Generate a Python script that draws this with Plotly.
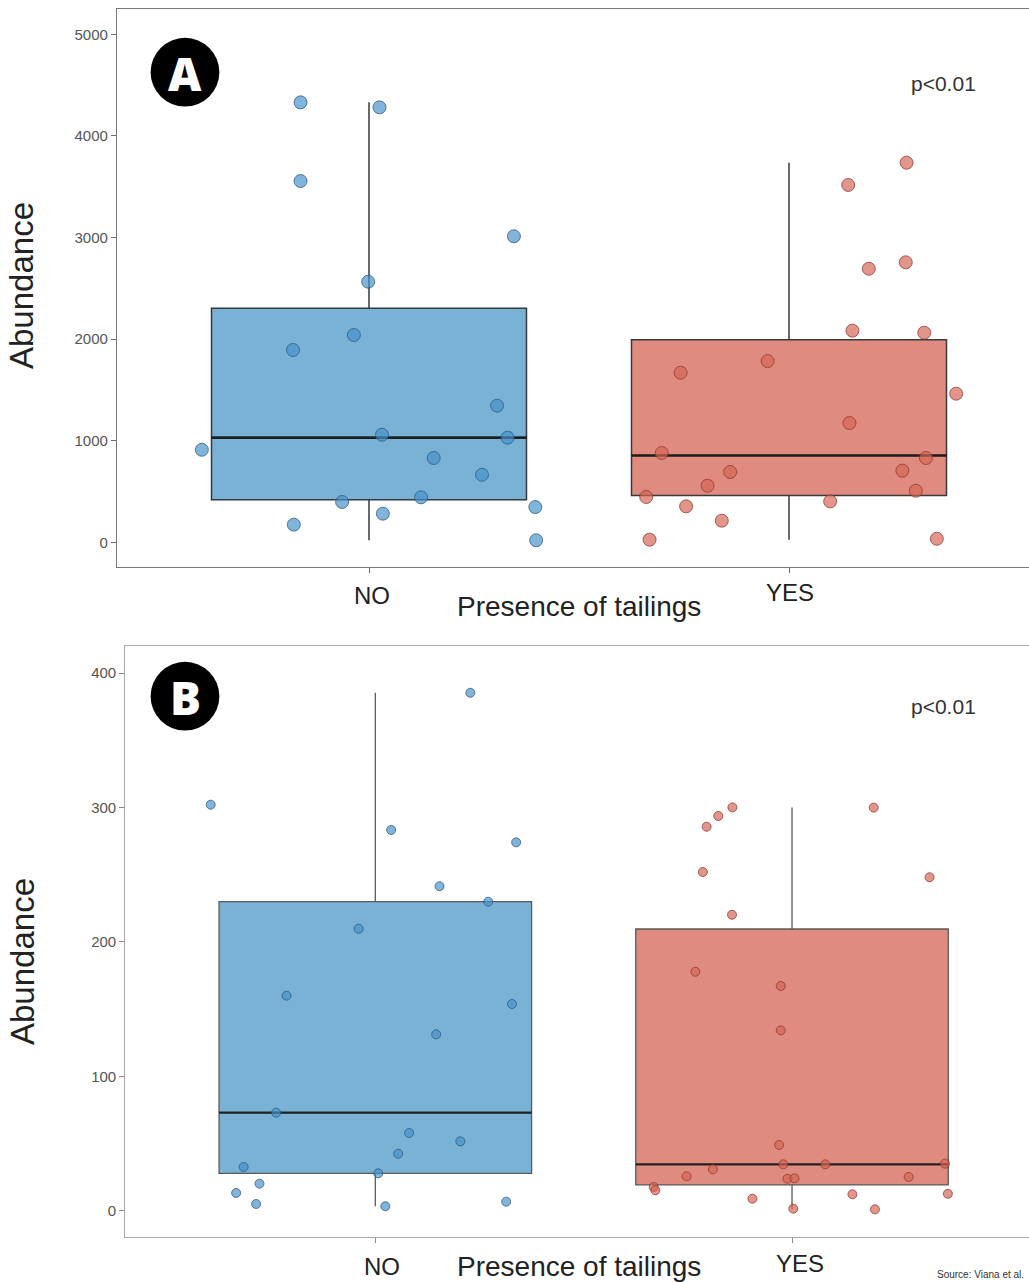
import numpy as np
import plotly.graph_objects as go

W, H = 1029, 1282

# ---- data -------------------------------------------------------------
categories = ["NO", "YES"]

# Panel A: abundance per site, with the horizontal jitter positions used for the dots
a_no_x = [0.837, 1.025, 0.837, 0.998, 1.345, 0.964, 0.819, 1.305, 1.031, 1.330,
          0.602, 1.154, 1.269, 1.124, 0.936, 1.033, 0.821, 1.396, 1.398]
a_no_y = [4330, 4281, 3556, 2565, 3012, 2040, 1893, 1345, 1059, 1030,
          911, 830, 665, 443, 397, 282, 174, 347, 20]

a_yes_x = [2.280, 2.141, 2.190, 2.278, 2.151, 2.322, 1.949, 1.742, 2.398, 2.144, 1.697,
           2.326, 1.860, 2.270, 1.806, 2.302, 1.660, 1.755, 2.098, 1.840, 1.668, 2.352]
a_yes_y = [3736, 3517, 2693, 2756, 2083, 2063, 1784, 1669, 1463, 1174, 879,
           830, 692, 705, 557, 508, 446, 354, 403, 213, 26, 35]

# Panel B
b_no_x = [0.605, 1.228, 1.038, 1.338, 1.154, 1.271, 0.960, 0.787, 1.146, 1.328, 0.762,
          1.081, 1.204, 1.055, 0.684, 1.007, 0.722, 0.666, 0.714, 1.024, 1.314]
b_no_y = [302.1, 385.4, 283.3, 274.1, 241.4, 229.9, 209.8, 160.0, 131.2, 153.8, 72.9,
          57.8, 51.6, 42.4, 32.5, 27.8, 20.1, 13.2, 5.0, 3.3, 6.7]

b_yes_x = [1.857, 1.823, 1.795, 2.196, 1.786, 2.330, 1.856, 1.768, 1.973, 1.973, 1.969,
           1.979, 2.080, 2.367, 1.810, 1.747, 2.280, 1.989, 2.006, 1.668, 1.672, 2.145,
           2.374, 1.905, 2.003, 2.199]
b_yes_y = [300.1, 293.7, 285.7, 299.9, 252.0, 248.1, 220.2, 177.8, 167.2, 134.2, 48.9,
           34.5, 34.5, 35.0, 30.8, 25.6, 25.1, 23.8, 24.1, 17.6, 15.2, 12.2,
           12.6, 8.9, 1.5, 1.0]

p_label = "p<0.01"
source_note = "Source: Viana et al."

# ---- styling ----------------------------------------------------------
BLUE_BOX = "rgb(122,178,213)"
RED_BOX = "rgb(224,139,127)"
BLUE_PT = "rgba(70,145,200,0.68)"
RED_PT = "rgba(212,100,84,0.68)"
BLUE_EDGE = "rgba(45,85,125,0.75)"
RED_EDGE = "rgba(140,55,45,0.75)"
BOX_W = 0.75
FONT = "Liberation Sans, Arial, sans-serif"


def px_x(x):
    return x / W


def px_y(y):
    return 1 - y / H


def box_stats(vals):
    """Tukey box statistics with type-7 quantiles (as in R's boxplot)."""
    v = np.asarray(vals, dtype=float)
    q1, med, q3 = np.percentile(v, [25, 50, 75])
    iqr = q3 - q1
    lo = v[v >= q1 - 1.5 * iqr].min()
    hi = v[v <= q3 + 1.5 * iqr].max()
    return q1, med, q3, lo, hi


fig = go.Figure()

panels = [
    dict(xa="x", ya="y", no=(a_no_x, a_no_y), yes=(a_yes_x, a_yes_y),
         msize=13, box_line="#353a3f", box_lw=1.5, med_lw=2.6),
    dict(xa="x2", ya="y2", no=(b_no_x, b_no_y), yes=(b_yes_x, b_yes_y),
         msize=9, box_line="#5a5a5a", box_lw=1.3, med_lw=2.2),
]

for p in panels:
    groups = [(1, p["no"], BLUE_BOX, BLUE_PT, BLUE_EDGE),
              (2, p["yes"], RED_BOX, RED_PT, RED_EDGE)]
    # boxes
    for pos, (xs, ys), fill, _, _ in groups:
        q1, med, q3, lo, hi = box_stats(ys)
        fig.add_trace(go.Box(
            x=[pos], q1=[q1], median=[med], q3=[q3], lowerfence=[lo], upperfence=[hi],
            width=BOX_W, xaxis=p["xa"], yaxis=p["ya"], whiskerwidth=0,
            fillcolor=fill, line=dict(color=p["box_line"], width=p["box_lw"]),
            hoverinfo="skip", showlegend=False))
    # heavier median bar
    for pos, (xs, ys), _, _, _ in groups:
        med = box_stats(ys)[1]
        fig.add_trace(go.Scatter(
            x=[pos - BOX_W / 2, pos + BOX_W / 2], y=[med, med], mode="lines",
            xaxis=p["xa"], yaxis=p["ya"],
            line=dict(color="rgba(25,25,25,0.9)", width=p["med_lw"]),
            hoverinfo="skip", showlegend=False))
    # jittered site points
    for pos, (xs, ys), _, pt, edge in groups:
        fig.add_trace(go.Scatter(
            x=xs, y=ys, mode="markers", xaxis=p["xa"], yaxis=p["ya"],
            marker=dict(size=p["msize"], color=pt, line=dict(color=edge, width=1)),
            hoverinfo="skip", showlegend=False))

axis_common = dict(showgrid=False, zeroline=False, showline=True, ticks="outside")

# panel geometry (pixels)
A = dict(left=117, top=9, bottom=567, x_per=420, y_range=[-243, 5249], dtick=1000,
         line="#7a7a7a", tickcol="#6a6a6a")
B = dict(left=125.3, top=645.7, bottom=1237.3, x_per=416.7, y_range=[-19.8, 420.4], dtick=100,
         line="#a8a8a8", tickcol="#8a8a8a")

for suffix, g in (("", A), ("2", B)):
    span = (W - g["left"]) / g["x_per"]
    fig.update_layout(**{
        "xaxis" + suffix: dict(
            axis_common, domain=[px_x(g["left"]), 1.0], range=[0.4, 0.4 + span],
            anchor="y" + suffix, tickvals=[1, 2], ticktext=["", ""],
            ticklen=5, tickcolor=g["tickcol"], linecolor=g["line"], linewidth=1.2,
            mirror=True),
        "yaxis" + suffix: dict(
            axis_common, domain=[px_y(g["bottom"]), px_y(g["top"])], range=g["y_range"],
            anchor="x" + suffix, dtick=g["dtick"], ticklen=5, tickcolor=g["tickcol"],
            linecolor=g["line"], linewidth=1.2,
            tickfont=dict(family=FONT, size=15, color="#555555")),
    })

annotations = []
shapes = []


def text(x, y, s, size, color="#222222", angle=0, xanchor="center", family=FONT, weight=None):
    f = dict(family=family, size=size, color=color)
    if weight:
        f["weight"] = weight
    annotations.append(dict(x=px_x(x), y=px_y(y), xref="paper", yref="paper", text=s,
                            showarrow=False, textangle=angle, xanchor=xanchor,
                            yanchor="middle", font=f))


def cat_label(xref, xpos, y, s, xshift=0):
    annotations.append(dict(x=xpos, y=px_y(y), xref=xref, yref="paper", text=s,
                            showarrow=False, xanchor="center", yanchor="middle",
                            xshift=xshift, font=dict(family=FONT, size=24, color="#222222")))


# category labels
cat_label("x", 1, 595, categories[0], xshift=3)
cat_label("x", 2, 593, categories[1], xshift=1)
cat_label("x2", 1, 1266, categories[0], xshift=7)
cat_label("x2", 2, 1263, categories[1], xshift=8)

# axis titles
for yc_title, yc_x in ((286, 607), (962, 1266)):
    text(22, yc_title, "Abundance", 33, angle=-90)
    text(579, yc_x, "Presence of tailings", 28)

# p-values
text(943, 84, p_label, 21, color="#333333")
text(943, 706, p_label, 21, color="#333333")

# panel badges
for letter, cx, cy in (("A", 185, 72.2), ("B", 185, 696.2)):
    r = 34.4
    shapes.append(dict(type="circle", xref="paper", yref="paper",
                       x0=px_x(cx - r), x1=px_x(cx + r), y0=px_y(cy + r), y1=px_y(cy - r),
                       fillcolor="black", line=dict(color="black", width=0)))
    text(cx, cy + 1, letter, 46, color="white", family="Open Sans, Arial, sans-serif", weight=800)

# source note, bottom-right corner
text(1026, 1274, source_note, 10, color="#333333", xanchor="right")

fig.update_layout(
    width=W, height=H, margin=dict(l=0, r=0, t=0, b=0),
    paper_bgcolor="white", plot_bgcolor="white", showlegend=False,
    boxmode="overlay", annotations=annotations, shapes=shapes,
)

fig.write_html("out.html")
